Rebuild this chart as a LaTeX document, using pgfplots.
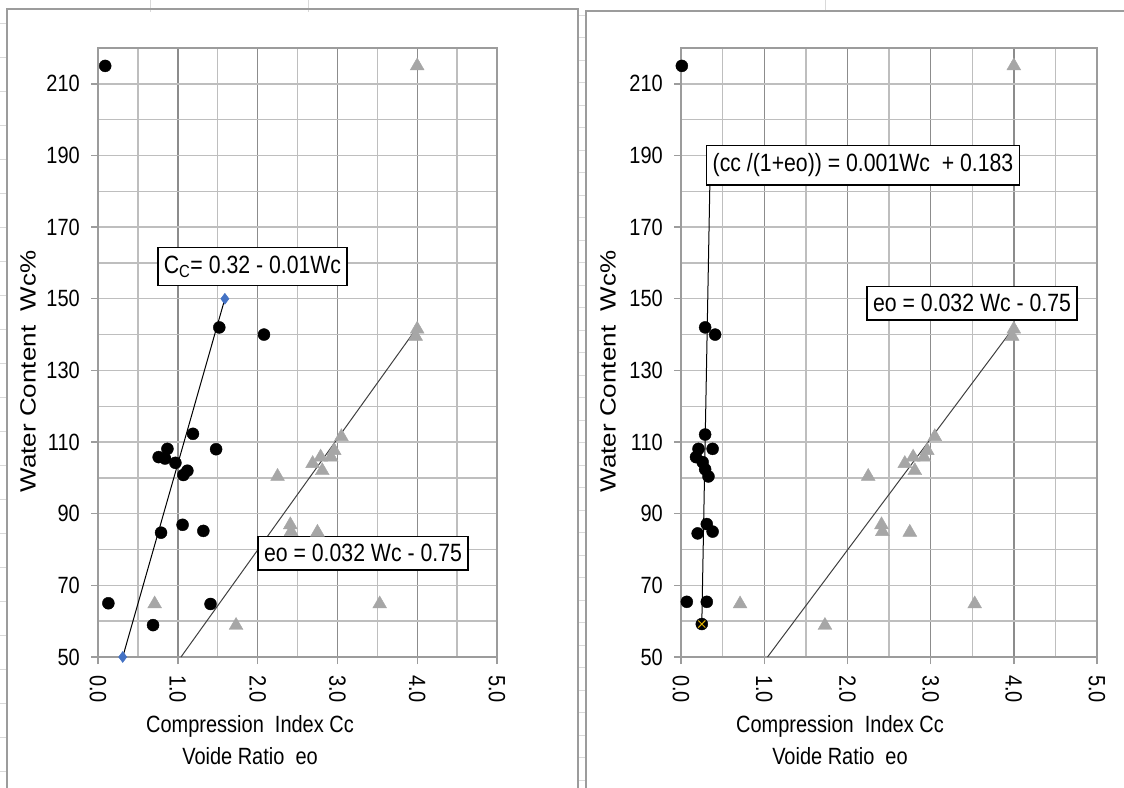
\documentclass[border=0pt]{standalone}
\usepackage{fontspec}
\setmainfont{Liberation Sans}[FakeStretch=0.85]
\usepackage{pgfplots}
\pgfplotsset{compat=1.18}
\definecolor{tri}{HTML}{A6A6A6}
\definecolor{dia}{HTML}{4472C4}
\definecolor{gridmaj}{HTML}{8C8C8C}
\definecolor{gridmin}{HTML}{BEBEBE}
\definecolor{framec}{HTML}{9C9C9C}
\definecolor{sheet}{HTML}{D9D9D9}
\definecolor{xgold}{HTML}{E0B000}

\pgfplotstableread{
x y
0.09 215
1.52 142
2.08 140
1.19 112.3
0.87 108.1
0.76 105.8
0.84 105.4
0.97 104.2
1.48 108
1.07 100.8
1.12 102
1.06 86.9
1.32 85.2
0.79 84.7
0.13 65
1.41 64.8
0.69 58.9
}\ccleft

\pgfplotstableread{
x y
0.01 215
0.29 142
0.41 140
0.29 112.1
0.38 108.1
0.21 108.1
0.18 105.8
0.26 104.4
0.29 102.4
0.33 100.4
0.31 87.1
0.38 85
0.20 84.5
0.07 65.4
0.31 65.4
0.25 59.2
}\ccright

\pgfplotstableread{
x y
4.00 215
4.00 141.5
3.98 139.5
3.05 111.5
2.96 107.6
2.92 105.8
2.79 105.8
2.69 104
2.81 102
2.25 100.4
2.41 86.9
2.42 85
2.75 84.8
3.53 64.8
0.71 64.8
1.73 58.8
}\eo

\pgfplotsset{
  panel/.style={
    scale only axis, height=609pt,
    xmin=0, xmax=5, ymin=50, ymax=220,
    xtick={0,1,2,3,4,5}, xticklabels={0.0,1.0,2.0,3.0,4.0,5.0},
    minor xtick={0.5,1.5,2.5,3.5,4.5},
    ytick={50,70,90,110,130,150,170,190,210},
    yticklabels={50,70,90,110,130,150,170,190,210},
    minor ytick={60,80,100,120,140,160,180,200,220},
    grid=both,
    major x grid style={gridmaj, line width=1.4pt},
    minor x grid style={gridmin, line width=1.4pt},
    major y grid style={gridmin, line width=1.4pt},
    minor y grid style={gridmin, line width=1.4pt},
    axis line style={framec, line width=2pt},
    tick align=outside, major tick length=7pt, minor tick length=0pt,
    xtick pos=left, ytick pos=left,
    major tick style={framec, line width=1.4pt},
    ticklabel style={font=\fontsize{23.5}{25}\selectfont, inner sep=0pt},
    xticklabel style={rotate=-90, anchor=west},
    yticklabel style={anchor=east},
    xticklabel shift=11pt, yticklabel shift=11pt,
    clip=false,
  },
}
\tikzset{
  eqbox/.style={draw=black, fill=white, line width=1.3pt, inner xsep=6pt, inner ysep=8pt, font=\fontsize{25}{27}\selectfont},
  lab/.style={font=\fontsize{23.5}{27}\selectfont},
}

\begin{document}
\begin{tikzpicture}
\fill[white] (0pt,0pt) rectangle (1124pt,787pt);
% spreadsheet background lines
\foreach \k in {0,...,22} {\draw[sheet, line width=0.8pt] (0pt,{(787-23-34*\k)*1pt}) -- (7pt,{(787-23-34*\k)*1pt});}
\foreach \k in {0,...,34} {\draw[sheet, line width=0.8pt] (578pt,{(787-15-22.5*\k)*1pt}) -- (586pt,{(787-15-22.5*\k)*1pt});}
\foreach \xx in {150,308,825} {\draw[sheet, line width=0.8pt] (\xx pt,787pt) -- (\xx pt,775pt);}
% frames
\draw[framec, line width=1.8pt] (7pt,-5pt) -- (7pt,778pt) -- (578pt,778pt) -- (578pt,-5pt);
\draw[framec, line width=1.8pt] (586pt,-5pt) -- (586pt,776pt) -- (1130pt,776pt);

% ---------- left panel ----------
\begin{axis}[panel, width=399pt, at={(98pt,130pt)}, anchor=south west]
\addplot[black, line width=1pt] coordinates {(0.31,50) (1.59,150)};
\addplot[black!75, line width=1pt] coordinates {(1.04,50) (4.0,142)};
\addplot[only marks, mark=triangle*, mark size=8pt, color=tri] table {\eo};
\addplot[only marks, mark=*, mark size=6pt, color=black] table {\ccleft};
\addplot[only marks, mark=diamond*, mark size=5.5pt, color=dia] coordinates {(0.31,50) (1.59,150)};
\node[eqbox] at (axis cs:1.936,159) {C\textsubscript{C}= 0.32 - 0.01Wc};
\node[eqbox] at (axis cs:3.321,79) {eo = 0.032 Wc - 0.75};
\node[lab] at (axis cs:1.905,30.5) {Compression\ \ Index Cc};
\node[lab] at (axis cs:1.905,22.4) {Voide Ratio\ \ eo};
\node[font=\fontsize{22}{26}\selectfont, rotate=90] at (axis cs:-0.877,129.7) {\scalebox{1.39}[1]{Water Content\ \ Wc\%}};
\end{axis}

% ---------- right panel ----------
\begin{axis}[panel, width=416pt, at={(681pt,130pt)}, anchor=south west]
\addplot[black, line width=1pt] coordinates {(0.25,59.2) (0.35,186)};
\addplot[black!75, line width=1pt] coordinates {(1.04,50) (4.0,142)};
\addplot[only marks, mark=triangle*, mark size=8pt, color=tri] table {\eo};
\addplot[only marks, mark=*, mark size=6pt, color=black] table {\ccright};
\addplot[only marks, mark=x, mark size=5pt, color=xgold, line width=1pt] coordinates {(0.25,59.2)};
\node[eqbox] at (axis cs:2.188,187.2) {(cc /(1+eo)) = 0.001Wc\ \ + 0.183};
\node[eqbox] at (axis cs:3.498,148.8) {eo = 0.032 Wc - 0.75};
\node[lab] at (axis cs:1.911,30.5) {Compression\ \ Index Cc};
\node[lab] at (axis cs:1.911,22.4) {Voide Ratio\ \ eo};
\node[font=\fontsize{22}{26}\selectfont, rotate=90] at (axis cs:-0.877,129.7) {\scalebox{1.39}[1]{Water Content\ \ Wc\%}};
\end{axis}
\pgfresetboundingbox
\path[use as bounding box] (0pt,0pt) rectangle (1124pt,787pt);
\end{tikzpicture}
\end{document}
